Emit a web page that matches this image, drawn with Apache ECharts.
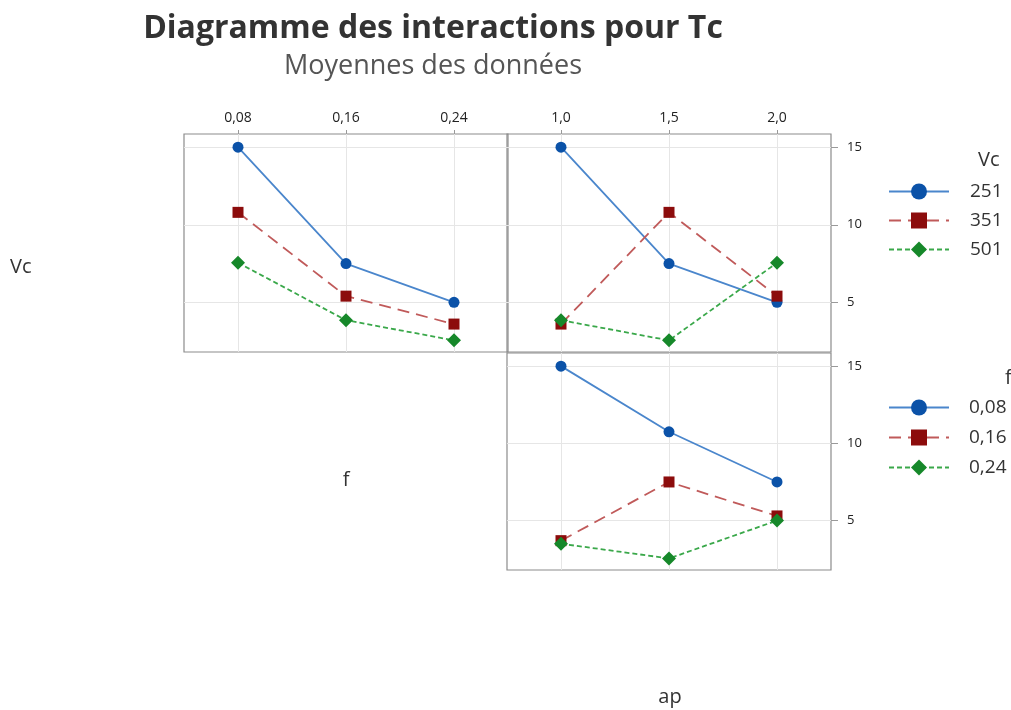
<!DOCTYPE html>
<html>
<head>
<meta charset="utf-8">
<title>Diagramme des interactions pour Tc</title>
<script src="https://cdn.jsdelivr.net/npm/echarts@6/dist/echarts.min.js"></script>
<style>
  html, body { margin: 0; padding: 0; background: #ffffff; }
  #chart { width: 1011px; height: 710px; }
</style>
</head>
<body>
<div id="chart"></div>
<script>
// Factor levels
const fLevels = ['0,08', '0,16', '0,24'];
const apLevels = ['1,0', '1,5', '2,0'];
const vcNames = ['251', '351', '501'];
const fNames = ['0,08', '0,16', '0,24'];

// Mean Tc for each Vc level, across f
const vc251ByF = [15.0, 7.5, 5.0];
const vc351ByF = [10.8, 5.4, 3.6];
const vc501ByF = [7.55, 3.85, 2.55];

// Mean Tc for each Vc level, across ap
const vc251ByAp = [15.0, 7.5, 5.0];
const vc351ByAp = [3.6, 10.8, 5.4];
const vc501ByAp = [3.85, 2.55, 7.55];

// Mean Tc for each f level, across ap
const f008ByAp = [15.0, 10.75, 7.5];
const f016ByAp = [3.7, 7.5, 5.3];
const f024ByAp = [3.5, 2.55, 5.0];

// Y tick labels
const yTicks = [5, 10, 15];

const FONT = '"Open Sans", "Noto Sans", sans-serif';

// Shared look for the three level groups: solid, long dash, short dash
const looks = [
  { line: '#4a86cc', mark: '#0b52a8', symbol: 'circle', size: 11, dash: 'solid' },
  { line: '#c05a5a', mark: '#8c0c0c', symbol: 'rect', size: 11, dash: [12, 7] },
  { line: '#3aa84a', mark: '#16882a', symbol: 'diamond', size: 14, dash: [5, 3] }
];

function lineSeries(name, values, idx, look) {
  return {
    type: 'line',
    name: name,
    xAxisIndex: idx,
    yAxisIndex: idx,
    data: values,
    symbol: look.symbol,
    symbolSize: look.size,
    showSymbol: true,
    itemStyle: { color: look.mark, borderWidth: 0 },
    lineStyle: { color: look.line, width: 1.8, type: look.dash },
    emphasis: { disabled: true },
    z: 3
  };
}

const grids = [
  { left: 184, top: 134, width: 324, height: 218 },
  { left: 507, top: 134, width: 324, height: 218 },
  { left: 507, top: 353, width: 324, height: 217 }
];

function xAxis(gridIndex, cats, showLabels) {
  return {
    type: 'category',
    gridIndex: gridIndex,
    data: cats,
    position: 'top',
    boundaryGap: true,
    axisLine: { show: false },
    axisTick: { show: showLabels, alignWithLabel: true, length: 4, lineStyle: { color: '#999' } },
    axisLabel: { show: showLabels, color: '#222', fontFamily: FONT, fontSize: 14, margin: 9 },
    splitLine: { show: true, alignWithLabel: true, lineStyle: { color: '#e6e6e6', width: 1 } }
  };
}

function yAxis(gridIndex, showLabels) {
  return {
    type: 'value',
    gridIndex: gridIndex,
    position: 'right',
    min: 1.8,
    max: 15.85,
    splitNumber: 3,
    axisLine: { show: false },
    axisTick: { show: showLabels, length: 7, customValues: yTicks, lineStyle: { color: '#999' } },
    axisLabel: { show: showLabels, customValues: yTicks, color: '#222', fontFamily: FONT, fontSize: 13, margin: 16 },
    splitLine: { show: true, customValues: yTicks, lineStyle: { color: '#e6e6e6', width: 1 } }
  };
}

function sideText(text, x, y, align) {
  return {
    type: 'text',
    x: x,
    y: y,
    style: { text: text, font: '20px ' + FONT, fill: '#333', align: align || 'left', verticalAlign: 'middle' }
  };
}

const option = {
  backgroundColor: '#ffffff',
  animation: false,
  title: {
    text: 'Diagramme des interactions pour Tc',
    subtext: 'Moyennes des données',
    left: 428,
    top: 5,
    textAlign: 'center',
    itemGap: 3,
    textStyle: { fontFamily: FONT, fontSize: 32, fontWeight: 'bold', color: '#333', lineHeight: 38 },
    subtextStyle: { fontFamily: FONT, fontSize: 27, color: '#555', lineHeight: 30 }
  },
  grid: grids.map(g => Object.assign({ show: true, borderColor: '#8c8c8c', borderWidth: 1.2, backgroundColor: 'transparent' }, g)),
  xAxis: [
    xAxis(0, fLevels, true),
    xAxis(1, apLevels, true),
    xAxis(2, apLevels, false)
  ],
  yAxis: [
    yAxis(0, false),
    yAxis(1, true),
    yAxis(2, true)
  ],
  legend: [
    {
      data: vcNames,
      orient: 'vertical',
      left: 883,
      top: 177,
      itemWidth: 60,
      itemHeight: 20,
      itemGap: 10,
      selectedMode: false,
      textStyle: { fontFamily: FONT, fontSize: 19, color: '#333', padding: [0, 0, 0, 16] }
    },
    {
      data: fNames,
      orient: 'vertical',
      left: 883,
      top: 393,
      itemWidth: 60,
      itemHeight: 20,
      itemGap: 11,
      selectedMode: false,
      textStyle: { fontFamily: FONT, fontSize: 19, color: '#333', padding: [0, 0, 0, 15] }
    }
  ],
  graphic: [
    sideText('Vc', 10, 267),
    sideText('f', 346, 480, 'center'),
    sideText('ap', 670, 697, 'center'),
    sideText('Vc', 978, 160),
    sideText('f', 1005, 378)
  ],
  series: [
    lineSeries(vcNames[0], vc251ByF, 0, looks[0]),
    lineSeries(vcNames[1], vc351ByF, 0, looks[1]),
    lineSeries(vcNames[2], vc501ByF, 0, looks[2]),
    lineSeries(vcNames[0], vc251ByAp, 1, looks[0]),
    lineSeries(vcNames[1], vc351ByAp, 1, looks[1]),
    lineSeries(vcNames[2], vc501ByAp, 1, looks[2]),
    lineSeries(fNames[0], f008ByAp, 2, looks[0]),
    lineSeries(fNames[1], f016ByAp, 2, looks[1]),
    lineSeries(fNames[2], f024ByAp, 2, looks[2])
  ]
};

const chart = echarts.init(document.getElementById('chart'), null, { renderer: 'canvas' });
chart.setOption(option);
</script>
</body>
</html>
